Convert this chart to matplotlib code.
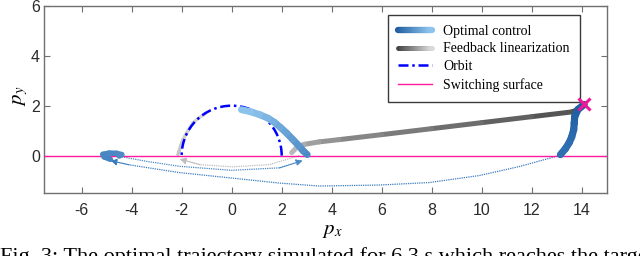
import matplotlib.pyplot as plt
import numpy as np
from matplotlib.collections import LineCollection
from matplotlib.colors import LinearSegmentedColormap
from matplotlib.legend_handler import HandlerBase
from matplotlib.lines import Line2D
from matplotlib.patches import Arc

plt.rcParams['axes.unicode_minus'] = False
plt.rcParams['mathtext.fontset'] = 'stix'

# ---- data ----
target = (14.1, 2.05)
orbit_radius = 2.0
x_ticks = [-6, -4, -2, 0, 2, 4, 6, 8, 10, 12, 14]
y_ticks = [0, 2, 4, 6]

# optimal control (thick pieces + thin "jump" arcs)
oc_end_x = [14.1, 13.85, 13.72, 13.7, 13.68, 13.6, 13.5, 13.35, 13.15]
oc_end_y = [2.05, 1.85, 1.56, 1.3, 1.04, 0.75, 0.52, 0.28, 0.04]
oc_jump1_x = [13.1, 12.3, 11.5, 9.9, 7.9, 5.9, 3.5, 1.9, 0.0, -2.1, -4.1, -4.85]
oc_jump1_y = [0.0, -0.22, -0.44, -0.8, -1.08, -1.18, -1.22, -1.1, -0.9, -0.68, -0.37, -0.2]
oc_blob_x = [-4.85, -5.1, -5.15, -4.9, -4.6, -4.4, -4.5]
oc_blob_y = [-0.15, -0.05, 0.05, 0.1, 0.09, 0.04, -0.02]
oc_jump2_x = [-4.48, -3.41, -2.08, -0.01, 1.92, 2.84]
oc_jump2_y = [-0.03, -0.23, -0.43, -0.59, -0.49, -0.2]
oc_start_x = [3.02, 2.85, 2.7, 2.45, 2.2, 1.95, 1.7, 1.45, 1.12, 0.75, 0.39]
oc_start_y = [0.04, 0.2, 0.38, 0.64, 0.9, 1.13, 1.34, 1.5, 1.64, 1.76, 1.84]

# feedback linearization
fl_end_x = [14.1, 13.9, 13.6, 12.0, 10.0, 8.0, 6.0, 4.3, 3.5, 2.9, 2.6, 2.4]
fl_end_y = [2.05, 1.86, 1.75, 1.56, 1.32, 1.08, 0.84, 0.64, 0.55, 0.45, 0.33, 0.12]
fl_jump_x = [2.7, 1.52, 0.04, -1.28, -2.08]
fl_jump_y = [0.0, -0.36, -0.45, -0.36, -0.14]
fl_start_x = [-2.15, -2.1, -2.03, -1.95, -1.85, -1.75, -1.55, -1.3, -1.05]
fl_start_y = [0.04, 0.2, 0.42, 0.64, 0.82, 1.0, 1.31, 1.52, 1.68]

legend_labels = ['Optimal control', 'Feedback linearization', 'Orbit', 'Switching surface']

oc_colors = ['#1d5c9f', '#8cc3ec']
fl_colors = ['#404040', '#d9d9d9']
orbit_color = '#0000ff'
switch_color = '#ff1aa0'


def gradient_line(ax, x, y, c0, c1, lw, z=3):
    pts = np.column_stack([x, y])
    segs = np.stack([pts[:-1], pts[1:]], axis=1)
    cmap = LinearSegmentedColormap.from_list('g', [c0, c1])
    lc = LineCollection(segs, colors=cmap(np.linspace(0, 1, len(segs))),
                        linewidths=lw, capstyle='round', joinstyle='round', zorder=z)
    ax.add_collection(lc)


def jump(ax, x, y, color, z=2):
    ax.plot(x[:-1], y[:-1], color=color, lw=0.9, ls=(0, (1, 0.8)), zorder=z)
    ax.annotate('', xy=(x[-1], y[-1]), xytext=(x[-2], y[-2]),
                arrowprops=dict(arrowstyle='-|>', color=color, lw=0.9,
                                ls=(0, (1, 0.8)), mutation_scale=9,
                                shrinkA=0, shrinkB=0), zorder=z)


class GradientHandler(HandlerBase):
    def __init__(self, c0, c1, lw):
        super().__init__()
        self.cmap = LinearSegmentedColormap.from_list('h', [c0, c1])
        self.lw = lw

    def create_artists(self, legend, orig_handle, xdescent, ydescent,
                       width, height, fontsize, trans):
        xs = np.linspace(-xdescent, width - xdescent, 25)
        yc = height / 2 - ydescent
        segs = [[(xs[i], yc), (xs[i + 1], yc)] for i in range(len(xs) - 1)]
        lc = LineCollection(segs, colors=self.cmap(np.linspace(0, 1, len(segs))),
                            linewidths=self.lw, capstyle='round', transform=trans)
        return [lc]


fig = plt.figure(figsize=(6.4, 2.56), dpi=100)
ax = fig.add_axes([0.069, 0.246, 0.879, 0.731])

# switching surface
ax.axhline(0, color=switch_color, lw=1.0, zorder=4)

# orbit
ax.add_patch(Arc((0, 0), 2 * orbit_radius, 2 * orbit_radius, theta1=0, theta2=180,
                 color=orbit_color, lw=1.8, ls=(0, (4, 1.5, 1, 1.5)), zorder=5))

# feedback linearization
gradient_line(ax, fl_end_x, fl_end_y, '#3c3c3c', '#b8b8b8', 3.6, z=3)
jump(ax, fl_jump_x, fl_jump_y, '#bdbdbd')
gradient_line(ax, fl_start_x, fl_start_y, '#c4c4c4', '#d6d6d6', 2.4, z=3)

# optimal control
gradient_line(ax, oc_end_x, oc_end_y, '#1d5c9f', '#2e6fb2', 5.2, z=4)
jump(ax, oc_jump1_x, oc_jump1_y, '#3a7cc0')
gradient_line(ax, oc_blob_x, oc_blob_y, '#4585c2', '#4d8ac6', 4.0, z=4)
jump(ax, oc_jump2_x, oc_jump2_y, '#4a88c6')
gradient_line(ax, oc_start_x, oc_start_y, '#4b89c5', '#8cc3ec', 5.0, z=6)

# target
ax.plot(*target, marker='x', color='#f0189a', ms=8, mew=2.2, zorder=8)

ax.set_xlim(-7.5, 15)
ax.set_ylim(-1.5, 6)
ax.set_xticks(x_ticks)
ax.set_xticklabels([str(t) for t in x_ticks])
ax.set_yticks(y_ticks)
ax.set_yticklabels([str(t) for t in y_ticks])
ax.tick_params(direction='in', length=4, width=0.8, color='#707070',
               top=True, right=True, labelsize=11.5, labelcolor='#2b2b2b')
ax.tick_params(axis='x', pad=7)
ax.tick_params(axis='y', pad=3)
for lab in ax.get_xticklabels() + ax.get_yticklabels():
    lab.set_fontfamily('Liberation Sans')
for s in ax.spines.values():
    s.set_color('#707070')
    s.set_linewidth(1.0)

ax.set_xlabel('$p_x$', fontsize=15)
ax.set_ylabel('$p_y$', fontsize=15)
ax.xaxis.set_label_coords(0.513, -0.145)
ax.yaxis.set_label_coords(-0.025, 0.52)

h_oc = Line2D([], [])
h_fl = Line2D([], [])
h_orb = Line2D([], [], color=orbit_color, lw=1.8, ls=(0, (4, 1.5, 1, 1.5)))
h_sw = Line2D([], [], color=switch_color, lw=1.0)
leg = ax.legend([h_oc, h_fl, h_orb, h_sw], legend_labels,
                handler_map={h_oc: GradientHandler(oc_colors[0], oc_colors[1], 4.5),
                             h_fl: GradientHandler(fl_colors[0], fl_colors[1], 3.5)},
                loc='upper right', bbox_to_anchor=(0.952, 0.952),
                prop={'family': 'Liberation Serif', 'size': 10},
                handlelength=2.5, handletextpad=0.8, labelspacing=0.35,
                borderpad=0.7, borderaxespad=0, fancybox=False, framealpha=1,
                edgecolor='#3a3a3a')
leg.get_frame().set_linewidth(1.0)

fig.text(0.0, -0.025, 'Fig. 3: The optimal trajectory simulated for 6.3 s which reaches the target',
         family='Liberation Serif', fontsize=16, va='baseline', ha='left')

fig.savefig('out.png', dpi=100)
